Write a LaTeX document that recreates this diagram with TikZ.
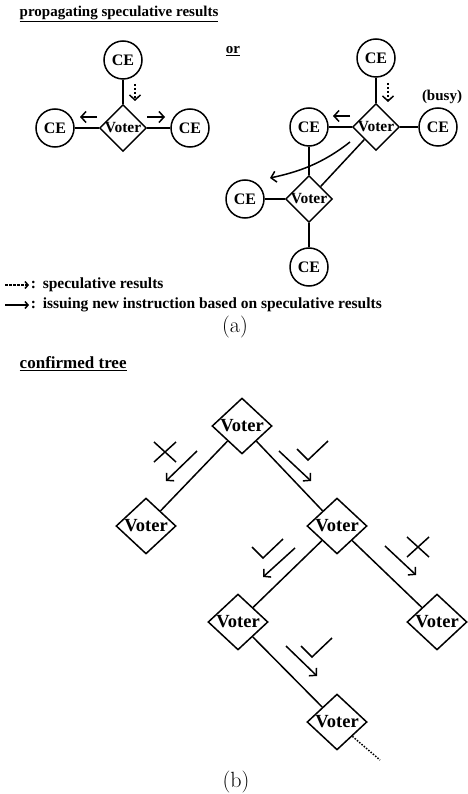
\documentclass[tikz,border=0pt]{standalone}
\usepackage{fontspec}
\newfontfamily\garafont{Liberation Serif}
\usetikzlibrary{arrows.meta, calc, shapes.geometric}

\begin{document}
\begin{tikzpicture}[x=1pt, y=-1pt, line width=1.5pt,
    >={Straight Barb[length=5pt, width=11pt]},
    ce/.style={circle, draw, minimum size=38pt, inner sep=0pt, font=\garafont\bfseries\fontsize{16}{18}\selectfont},
    vote/.style={diamond, draw, minimum width=46pt, minimum height=44pt, inner sep=0pt, font=\garafont\bfseries\fontsize{15.5}{18}\selectfont},
    bigvote/.style={vote, minimum width=60pt, minimum height=54pt, font=\garafont\bfseries\fontsize{18.5}{21}\selectfont},
    txt/.style={inner sep=0pt, font=\garafont\bfseries\fontsize{15}{17}\selectfont},
    legtxt/.style={txt, font=\garafont\bfseries\fontsize{15.5}{17}\selectfont},
    subcap/.style={inner sep=0pt, font=\fontsize{22}{26}\selectfont},
    spec/.style={dash pattern=on 2.5pt off 1.5pt},
    okmark/.pic={\draw (-11,-11) -- (0,0) -- (20,-19);},
    nomark/.pic={\draw (-11,-10) -- (11,10) (-11,10) -- (11,-10);}]
  \useasboundingbox (0,0) rectangle (467,794);

  % (a) propagating speculative results
  \node[txt, anchor=west] (title1) at (19,14) {\underline{propagating speculative results}};
  \node[txt] (or) at (233,51) {\underline{or}};

  % first case
  \node[ce] (top) at (123,60) {CE};
  \node[vote] (v) at (123,128) {Voter};
  \node[ce] (left) at (55,128) {CE};
  \node[ce] (right) at (190,128) {CE};
  \draw (top) -- (v);
  \draw (left) -- (v);
  \draw (v) -- (right);
  \draw[spec, ->] (135,84) -- (135,101);
  \draw[->] (97,117) -- (80,117);
  \draw[->] (147,117) -- (165,117);

  % second case, one CE busy
  \node[ce] (topb) at (376,58) {CE};
  \node[vote] (va) at (376,127) {Voter};
  \node[ce] (lefta) at (309,127) {CE};
  \node[ce] (busy) at (438,127) {CE};
  \node[txt, anchor=south] at (442,104) {(busy)};
  \node[vote] (vb) at (309,199) {Voter};
  \node[ce] (leftb) at (245,199) {CE};
  \node[ce] (bottom) at (309,267) {CE};
  \draw (topb) -- (va);
  \draw (lefta) -- (va);
  \draw (va) -- (busy);
  \draw (lefta) -- (vb);
  \draw (va) -- (vb);
  \draw (leftb) -- (vb);
  \draw (vb) -- (bottom);
  \draw[spec, ->] (388,83) -- (388,102);
  \draw[->] (350,116) -- (333,116);
  \draw[->] (350,142) .. controls (322,164) and (298,172) .. (270,178);

  % legend
  \draw[spec, -{Straight Barb[length=3pt, width=7pt]}] (5,285) -- (29,285);
  \node[legtxt, anchor=west] at (30,285) {:};
  \draw[-{Straight Barb[length=3pt, width=7pt]}] (5,305) -- (29,305);
  \node[legtxt, anchor=west] at (30,305) {:};
  \node[legtxt, anchor=west] (lega) at (42,285) {speculative results};
  \node[legtxt, anchor=west] (legb) at (42,305) {issuing new instruction based on speculative results};
  \node[subcap] at (235,327) {(a)};

  % (b) confirmed tree
  \node[txt, anchor=west, font=\garafont\bfseries\fontsize{17}{19}\selectfont] (title2) at (19,364) {\underline{confirmed tree}};
  \node[bigvote] (r) at (242,426) {Voter};
  \node[bigvote] (a) at (146,526) {Voter};
  \node[bigvote] (b) at (337,526) {Voter};
  \node[bigvote] (c) at (238,622) {Voter};
  \node[bigvote] (d) at (437,622) {Voter};
  \node[bigvote] (e) at (337,722) {Voter};
  \coordinate (etail) at (380,760);
  \draw (r) -- (a);
  \draw (r) -- (b);
  \draw (b) -- (c);
  \draw (b) -- (d);
  \draw (c) -- (e);
  \draw[dash pattern=on 1.5pt off 1.5pt] (e.south east) -- (etail);

  % votes on the edges
  \draw[->] (197,451) -- (166,481);
  \pic at (165,452) {nomark};
  \draw[->] (279,451) -- (311,481);
  \pic at (308,460) {okmark};
  \draw[->] (295,548) -- (263,577);
  \pic at (263,558) {okmark};
  \draw[->] (385,546) -- (416,575);
  \pic at (418,547) {nomark};
  \draw[->] (286,646) -- (317,676);
  \pic at (312,657) {okmark};

  \node[subcap] at (236,782) {(b)};
\end{tikzpicture}
\end{document}
